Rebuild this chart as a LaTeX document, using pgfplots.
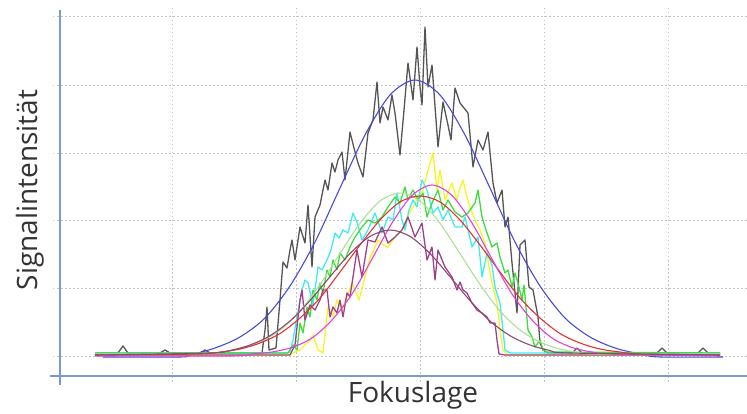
\documentclass[border=0pt]{standalone}
\usepackage{fontspec}
\setmainfont{Open Sans}
\usepackage{pgfplots}
\pgfplotsset{compat=1.18}
\definecolor{axblue}{HTML}{7B9AD0}
\definecolor{gridgray}{HTML}{C4C4C4}
\definecolor{dgray}{HTML}{555555}
\definecolor{fitblue}{HTML}{4A4AD6}
\definecolor{cyel}{HTML}{F8F520}
\definecolor{ccyan}{HTML}{3FEDEE}
\definecolor{cgreen}{HTML}{3FDC3F}
\definecolor{cpurp}{HTML}{A0408C}
\definecolor{fitlg}{HTML}{ACE098}
\definecolor{fitred}{HTML}{E03434}
\definecolor{fitpink}{HTML}{E040E0}
\definecolor{fitpg}{HTML}{8C4A70}
\definecolor{txt}{HTML}{333333}
\begin{document}
\begin{tikzpicture}
\useasboundingbox (0,0) rectangle (747pt,414pt);
\begin{axis}[
  at={(53pt,31pt)}, anchor=south west,
  scale only axis, width=694pt, height=375pt,
  xmin=53, xmax=747, ymin=8, ymax=383, y dir=reverse,
  axis line style={draw=none},
  xtick={172,296,420,544,668}, ytick={16,85,153,220,288,356},
  xticklabels={}, yticklabels={},
  major tick length=0pt,
  grid=major, grid style={gridgray, line width=0.8pt, dash pattern=on 1.5pt off 2.5pt},
  clip=false,
  every axis plot/.append style={line join=round, mark=none},
]
\draw[axblue, line width=1.5pt] (axis cs:50,376) -- (axis cs:747,376);
\draw[axblue, line width=1.5pt] (axis cs:60,10) -- (axis cs:60,385);

% black noisy
\addplot[dgray, line width=1.3pt] coordinates {
(95,353)(118,353)(123,346)(128,353)(160,353)(165,350)(170,353)(200,353)(205,350)(210,353)(262,353)(265,330)(267,307)(269,350)(276,348)(280,300)(283,262)(287,268)(290,250)(292,240)(295,260)(300,227)(305,243)(308,205)(312,267)(315,217)(320,205)(322,195)(325,180)(328,190)(332,163)(335,172)(338,160)(342,152)(345,180)(350,132)(354,148)(358,163)(363,177)(368,133)(373,120)(377,82)(380,123)(383,107)(388,120)(392,95)(395,113)(400,155)(404,110)(408,63)(413,100)(417,47)(420,87)(422,105)(425,27)(428,87)(432,65)(438,147)(443,102)(448,125)(451,140)(455,88)(460,103)(464,108)(468,113)(473,167)(478,140)(483,150)(488,132)(493,183)(497,203)(502,190)(505,227)(508,217)(512,263)(517,313)(520,245)(525,240)(529,287)(533,290)(538,317)(540,343)(543,350)(548,353)(572,353)(577,348)(582,353)(657,353)(662,348)(667,353)(698,353)(703,348)(708,353)(720,353)
};
% blue fit
\addplot[fitblue, line width=1.1pt, smooth] coordinates {
(103,357)(180,357)(190,355)(215,348)(240,337)(265,318)(290,286)(315,242)(340,188)(365,135)(390,95)(415,80)(440,95)(465,135)(490,188)(515,242)(540,286)(565,318)(590,337)(615,348)(640,354)(660,357)(723,357)
};
% yellow noisy
\addplot[cyel, line width=1.3pt] coordinates {
(95,355)(290,355)(293,353)(300,350)(305,345)(310,340)(313,335)(318,350)(323,353)(328,307)(333,317)(337,300)(342,310)(347,297)(352,283)(355,290)(359,300)(365,277)(370,258)(375,247)(378,240)(383,245)(388,247)(395,237)(402,230)(407,217)(413,207)(418,197)(423,190)(428,170)(433,153)(437,190)(440,170)(445,200)(449,190)(452,183)(457,200)(460,188)(463,180)(467,197)(470,207)(475,220)(480,230)(485,243)(490,273)(493,287)(497,303)(500,330)(503,350)(508,355)(720,355)
};
% cyan noisy
\addplot[ccyan, line width=1.3pt] coordinates {
(95,353)(285,353)(290,352)(293,340)(297,317)(302,290)(305,280)(308,283)(313,305)(318,267)(322,270)(327,260)(331,250)(335,233)(339,238)(343,230)(348,233)(353,213)(357,222)(362,240)(368,230)(375,213)(382,233)(388,217)(393,220)(397,193)(402,220)(405,230)(409,210)(413,200)(417,207)(422,180)(427,190)(433,213)(438,207)(443,220)(448,210)(455,227)(462,227)(465,217)(472,247)(478,237)(482,277)(487,253)(492,265)(495,287)(500,303)(503,330)(505,350)(510,353)(720,353)
};
% green noisy
\addplot[cgreen, line width=1.3pt] coordinates {
(95,353)(288,353)(293,345)(297,350)(300,323)(303,333)(307,307)(310,317)(313,290)(317,300)(320,283)(323,293)(327,270)(330,277)(333,260)(337,270)(340,253)(345,260)(350,247)(355,237)(362,227)(368,220)(375,223)(382,217)(388,207)(395,197)(400,203)(405,187)(408,200)(413,190)(418,200)(423,193)(427,217)(432,203)(438,190)(443,210)(448,200)(455,212)(462,217)(468,213)(475,203)(478,190)(482,217)(487,233)(492,247)(497,243)(500,257)(505,273)(508,270)(512,287)(515,273)(518,283)(522,300)(524,285)(528,330)(532,337)(535,347)(540,340)(543,350)(547,352)(720,353)
};
% purple noisy
\addplot[cpurp, line width=1.3pt] coordinates {
(95,355)(290,355)(295,345)(300,300)(302,290)(305,320)(310,305)(315,310)(320,300)(323,290)(327,290)(330,317)(333,307)(337,313)(340,300)(343,317)(347,293)(350,297)(353,277)(357,250)(362,277)(368,240)(375,242)(382,227)(388,243)(395,237)(402,230)(408,217)(415,237)(422,223)(427,260)(432,247)(435,280)(438,250)(445,267)(452,277)(457,290)(460,282)(463,290)(467,293)(472,303)(477,310)(482,313)(487,317)(490,323)(495,323)(497,340)(499,354)(505,355)(720,355)
};
% light green fit
\addplot[fitlg, line width=1.1pt, smooth] coordinates {
(95,354)(200,354)(220,352.6)(240,349)(260,342)(280,330)(300,311)(320,284.5)(340,253.6)(360,223.4)(380,201)(400,193)(420,201)(440,223.4)(460,253.6)(480,284.5)(500,311)(520,330)(540,342)(560,349)(580,352.6)(600,354)(720,354)
};
% red fit
\addplot[fitred, line width=1.1pt, smooth] coordinates {
(95,355)(200,354)(220,352)(240,349)(260,343)(280,333.5)(300,318)(320,298)(340,272)(360,245)(380,220)(400,202)(420,196)(440,202)(460,220)(480,245)(500,272)(520,298)(540,318)(560,333.5)(580,343)(600,349)(620,352)(640,354)(720,355)
};
% pink fit
\addplot[fitpink, line width=1.1pt, smooth] coordinates {
(95,356)(230,356)(252,354)(272,352)(292,347.5)(312,338)(332,320)(352,294)(372,259)(392,223)(412,195.5)(432,185)(452,195.5)(472,223)(492,259)(512,294)(532,320)(552,338)(572,347.5)(592,352)(612,354)(720,356)
};
% purple-gray fit
\addplot[fitpg, line width=1.1pt, smooth] coordinates {
(95,355)(210,353)(230,350.5)(250,345)(270,335.7)(290,321)(310,300.6)(330,276.7)(350,253.5)(370,236.4)(390,230)(410,236.4)(430,253.5)(450,276.7)(470,300.6)(490,321)(510,335.7)(530,345)(550,350.5)(570,353)(720,355)
};

\node[txt, rotate=90, font=\fontsize{28}{32}\selectfont] at (axis cs:30,190) {Signalintensität};
\node[txt, font=\fontsize{28}{32}\selectfont] at (axis cs:413,395) {Fokuslage};
\end{axis}
\end{tikzpicture}
\end{document}
